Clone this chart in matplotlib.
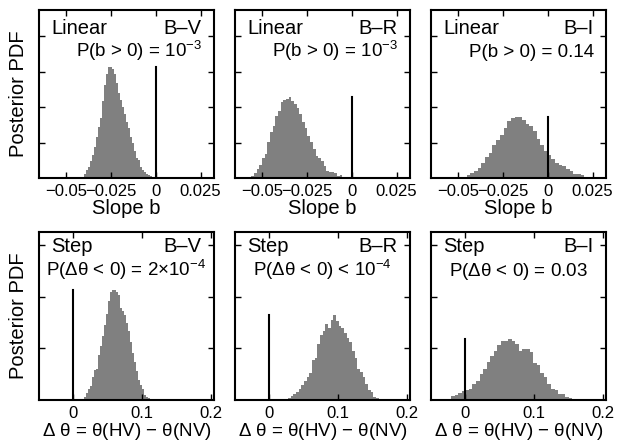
import numpy as np
import matplotlib
matplotlib.use("Agg")
import matplotlib.pyplot as plt

plt.rcParams['font.family'] = ['Liberation Sans', 'DejaVu Sans']
plt.rcParams['mathtext.fontset'] = 'custom'
plt.rcParams['mathtext.rm'] = 'Liberation Sans'
plt.rcParams['mathtext.it'] = 'Liberation Sans'

# posterior PDFs (bin start, bin width, heights)
slope_bv_start, slope_bv_width = -0.0413, 0.00112
slope_bv_pdf = [0.75, 2.3, 4.5, 6.4, 9.4, 13.1, 17.7, 23.3, 28.9, 33.8, 43.2, 52.6,
                58.6, 62.3, 62.7, 61.2, 58.6, 53.3, 47.7, 43.9, 40.2, 36.1, 31.4, 28.5,
                23.3, 19.5, 15.4, 11.6, 10.1, 6.4, 4.5, 3.4, 2.6, 1.9, 1.1, 0.75]

slope_br_start, slope_br_width = -0.0574, 0.00149
slope_br_pdf = [0.6, 1.3, 2.8, 5.1, 7.4, 11.1, 13.8, 20.2, 25.9, 29.6, 34.9, 37.9,
                42.8, 44.0, 44.3, 45.5, 43.6, 41.7, 39.4, 36.0, 31.5, 28.5, 23.6, 20.6,
                16.4, 12.3, 11.5, 9.6, 7.0, 4.0, 3.2, 3.2, 2.8, 1.3, 1.7, 0.6]

slope_bi_start, slope_bi_width = -0.05125, 0.00205
slope_bi_pdf = [0.4, 0.6, 0.9, 1.5, 2.8, 4.2, 5.7, 8.5, 11.7, 14.2, 18.5, 21.7,
                24.5, 28.3, 32.1, 33.6, 34.2, 34.3, 32.8, 30.6, 29.1, 26.8, 22.3, 18.5,
                15.1, 13.2, 10.9, 8.3, 7.5, 6.8, 4.9, 4.2, 2.6, 2.3, 1.9, 0.6, 0.6, 0.4]

step_bv_start, step_bv_width = 0.0122, 0.00292
step_bv_pdf = [0.26, 0.65, 1.3, 2.1, 2.8, 4.4, 5.8, 6.0, 8.8, 10.4, 12.4, 14.6,
               16.7, 19.3, 21.0, 21.4, 21.4, 21.0, 20.3, 17.9, 17.3, 16.4, 14.9, 13.3,
               11.3, 9.1, 7.4, 5.7, 3.8, 3.0, 2.1, 0.9, 0.5, 0.4, 0.13, 0.13]

step_br_start, step_br_width = 0.0233, 0.00389
step_br_pdf = [0.19, 0.45, 0.84, 1.1, 1.6, 2.1, 2.9, 3.6, 4.5, 5.2, 7.8, 8.1,
               10.8, 12.7, 13.4, 14.8, 13.9, 15.6, 16.4, 15.3, 14.4, 13.9, 13.0, 12.1,
               11.3, 9.6, 8.1, 6.1, 5.5, 4.5, 3.2, 2.0, 1.5, 0.58, 0.45, 0.19]

step_bi_start, step_bi_width = -0.0312, 0.0052
step_bi_pdf = [0.06, 0.19, 0.71, 0.97, 1.4, 1.75, 1.9, 2.1, 3.2, 3.7, 5.1, 6.0,
               7.3, 8.6, 9.6, 10.7, 11.5, 11.5, 11.8, 11.5, 10.9, 9.5, 9.9, 9.9,
               9.3, 7.1, 6.7, 5.2, 4.5, 3.2, 2.1, 1.9, 1.2, 1.1, 0.58, 0.32, 0.19, 0.19]

colours = ['B\u2013V', 'B\u2013R', 'B\u2013I']
slope_probs = [r'P(b > 0) = 10$^{-3}$', r'P(b > 0) = 10$^{-3}$', 'P(b > 0) = 0.14']
step_probs = [r'P($\Delta\theta$ < 0) = 2$\times$10$^{-4}$',
              r'P($\Delta\theta$ < 0) < 10$^{-4}$',
              r'P($\Delta\theta$ < 0) = 0.03']
slope_ticks = [-0.05, -0.025, 0, 0.025]
slope_ticklabels = ['\u22120.05', '\u22120.025', '0', '0.025']
step_ticks = [0, 0.1, 0.2]
step_ticklabels = ['0', '0.1', '0.2']

slope_data = [(slope_bv_start, slope_bv_width, slope_bv_pdf),
              (slope_br_start, slope_br_width, slope_br_pdf),
              (slope_bi_start, slope_bi_width, slope_bi_pdf)]
step_data = [(step_bv_start, step_bv_width, step_bv_pdf),
             (step_br_start, step_br_width, step_br_pdf),
             (step_bi_start, step_bi_width, step_bi_pdf)]

fig = plt.figure(figsize=(6.2, 4.42), dpi=100)
lefts = [39 / 620, 235 / 620, 431 / 620]
w, h = 175 / 620, 168 / 442


def draw_panel(ax, start, width, pdf, xlim, ylim, yticks, xticks, xticklabels):
    pdf = np.array(pdf)
    edges = start + width * np.arange(len(pdf) + 1)
    ax.stairs(pdf, edges, fill=True, color='#808080', linewidth=0)
    ax.plot([0, 0], [0, pdf.max()], color='k', lw=1.5)
    ax.set_xlim(xlim)
    ax.set_ylim(ylim)
    ax.set_xticks(xticks)
    ax.set_xticklabels(xticklabels)
    ax.set_yticks(yticks)
    ax.set_yticklabels([])
    ax.tick_params(direction='in', top=True, right=True, length=4, width=1,
                   labelsize=12, pad=4)
    for s in ax.spines.values():
        s.set_linewidth(1.5)


for i in range(3):
    ax = fig.add_axes([lefts[i], 0.597, w, h])
    start, width, pdf = slope_data[i]
    draw_panel(ax, start, width, pdf, (-0.065, 0.0325), (0, 94.6),
               [20, 40, 60, 80], slope_ticks, slope_ticklabels)
    ax.set_xlabel('Slope b', fontsize=14.5, labelpad=0)
    ax.text(0.07, 0.95, 'Linear', transform=ax.transAxes, fontsize=14.5,
            ha='left', va='top')
    ax.text(0.93, 0.95, colours[i], transform=ax.transAxes, fontsize=14.5,
            ha='right', va='top')
    ax.text(0.93, 0.72, slope_probs[i], transform=ax.transAxes, fontsize=13.5,
            ha='right', va='baseline')
    if i == 0:
        ax.set_ylabel('Posterior PDF', fontsize=14.5, labelpad=4)

for i in range(3):
    ax = fig.add_axes([lefts[i], 0.095, w, h])
    start, width, pdf = step_data[i]
    draw_panel(ax, start, width, pdf, (-0.05, 0.205), (0, 32.6),
               [10, 20, 30], step_ticks, step_ticklabels)
    ax.set_xlabel(r'$\Delta$ $\theta$ = $\theta$(HV) $-$ $\theta$(NV)',
                  fontsize=13.5, labelpad=0)
    ax.text(0.07, 0.97, 'Step', transform=ax.transAxes, fontsize=14.5,
            ha='left', va='top')
    ax.text(0.93, 0.97, colours[i], transform=ax.transAxes, fontsize=14.5,
            ha='right', va='top')
    ax.text(0.5, 0.74, step_probs[i], transform=ax.transAxes, fontsize=13.5,
            ha='center', va='baseline')
    if i == 0:
        ax.set_ylabel('Posterior PDF', fontsize=14.5, labelpad=4)

fig.savefig('out.png', dpi=100)
